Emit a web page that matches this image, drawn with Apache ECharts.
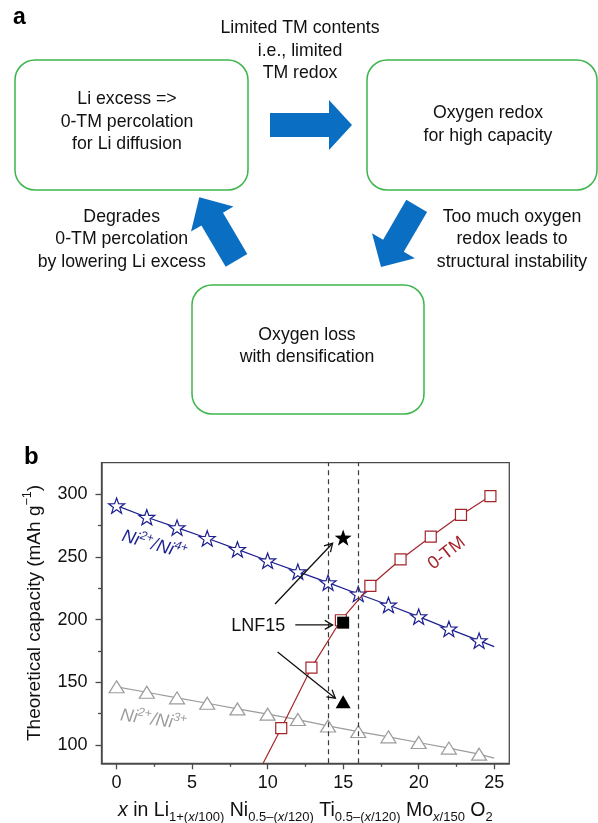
<!DOCTYPE html>
<html><head><meta charset="utf-8">
<script src="https://cdn.jsdelivr.net/npm/echarts@6/dist/echarts.min.js"></script>
<style>html,body{margin:0;padding:0;background:#fff}#c{width:598px;height:823px}</style>
</head><body><div id="c"></div>
<script>
const FONT = "'Liberation Sans', Arial, Helvetica, sans-serif";

// ---- data ----
const xTicks = [0, 5, 10, 15, 20, 25];
const xMinorTicks = [2.5, 7.5, 12.5, 17.5, 22.5];
const yTicks = [100, 150, 200, 250, 300];
const yMinorTicks = [125, 175, 225, 275];

// Ni2+/Ni4+ (open stars); last point is the line end without marker
const ni24X = [0, 2, 4, 6, 8, 10, 12, 14, 16, 18, 20, 22, 24, 25];
const ni24Y = [291, 281.7, 273.4, 264.9, 256.1, 247, 238.3, 229.5, 220.5, 211.7, 202.4, 192.6, 183.3, 178.5];

// Ni2+/Ni3+ (open triangles)
const ni23X = [0, 2, 4, 6, 8, 10, 12, 14, 16, 18, 20, 22, 24, 25];
const ni23Y = [146.4, 142.1, 137.6, 133.3, 128.8, 124.6, 120.3, 115.2, 110.7, 106.5, 102, 97.5, 92.7, 89.5];

// 0-TM (open squares); first point is where the line enters the plot
const tmX = [9.7, 10.9, 12.9, 14.85, 16.8, 18.8, 20.8, 22.8, 24.75];
const tmY = [85.5, 113.4, 161.7, 199.5, 227, 248, 266.2, 283.5, 298.6];

// LNF15 (filled black markers)
const lnfX = [15, 15, 15];
const lnfY = [265.4, 197.6, 134.6];
const lnfSymbols = ['star', 'rect', 'triangle'];

// annotation arrows [x1, y1, x2, y2]
const arrowSegs = [
  [11.83, 195.8, 14.3, 195.8],
  [10.49, 212.5, 14.3, 260.9],
  [10.66, 174.2, 14.48, 137.3]
];

// ---- styles ----
const BLUE = '#1c1f8f', RED = '#a3252a', GRAY = '#9c9c9c', GREEN = '#3db54b', ABLUE = '#0a6fc2';
const STAR = 'path://M0,-10L2.35,-3.24L9.51,-3.09L3.8,1.24L5.88,8.09L0,4L-5.88,8.09L-3.8,1.24L-9.51,-3.09L-2.35,-3.24Z';

function zip(xs, ys) { return xs.map((x, i) => [x, ys[i]]); }

const ni24Data = zip(ni24X, ni24Y).map((p, i) => i === ni24X.length - 1 ? { value: p, symbol: 'none' } : p);
const ni23Data = zip(ni23X, ni23Y).map((p, i) => i === ni23X.length - 1 ? { value: p, symbol: 'none' } : p);
const tmData = zip(tmX, tmY).map((p, i) => i === 0 ? { value: p, symbol: 'none' } : p);
const lnfData = zip(lnfX, lnfY).map((p, i) => ({
  value: p,
  symbol: lnfSymbols[i] === 'star' ? STAR : lnfSymbols[i],
  symbolSize: lnfSymbols[i] === 'star' ? 17 : (lnfSymbols[i] === 'rect' ? 12 : [15, 13])
}));

const txt = { fontFamily: FONT, fontSize: 17.7, fill: '#111', textAlign: 'center', textVerticalAlign: 'middle', lineHeight: 22.5 };
function T(text, x, y) { return { type: 'text', silent: true, style: Object.assign({}, txt, { text, x, y }) }; }
function box(x, y, w, h) {
  return { type: 'rect', silent: true, shape: { x, y, width: w, height: h, r: 20 },
    style: { fill: 'none', stroke: GREEN, lineWidth: 1.5 } };
}
function poly(points) { return { type: 'polygon', silent: true, shape: { points }, style: { fill: ABLUE } }; }

const graphics = [
  { type: 'text', silent: true, style: { text: 'a', x: 13, y: 29, fontFamily: FONT, fontWeight: 'bold', fontSize: 23, fill: '#000', textVerticalAlign: 'bottom' } },
  { type: 'text', silent: true, style: { text: 'b', x: 24, y: 469, fontFamily: FONT, fontWeight: 'bold', fontSize: 24, fill: '#000', textVerticalAlign: 'bottom' } },
  box(15, 60, 233, 130),
  box(367, 60, 230, 130),
  box(192, 285, 232, 129),
  T('Limited TM contents\ni.e., limited\nTM redox', 300, 51),
  T('Li excess =>\n0-TM percolation\nfor Li diffusion', 127, 121.7),
  T('Oxygen redox\nfor high capacity', 488, 124.5),
  T('Oxygen loss\nwith densification', 307, 346),
  T('Degrades\n0-TM percolation\nby lowering Li excess', 121.7, 239.2),
  T('Too much oxygen\nredox leads to\nstructural instability', 512, 239.2),
  poly([[270, 113], [329, 113], [329, 100], [352, 125], [329, 150], [329, 137], [270, 137]]),
  poly([[247.3, 253.9], [223.0, 212.8], [233.4, 206.6], [199.3, 197.2], [191.0, 231.6], [201.4, 225.5], [225.7, 266.7]]),
  poly([[427.1, 211.9], [403.8, 251.8], [414.9, 258.3], [381.0, 267.0], [372.0, 233.3], [383.1, 239.7], [406.3, 199.8]])
];

const axisCol = '#4a4a4a';
const labelStyle = { fontFamily: FONT, fontSize: 18, color: '#111' };

const supRich = (color) => ({
  n: { fontFamily: FONT, fontSize: 18, fontStyle: 'italic', color, lineHeight: 23 },
  s: { fontFamily: FONT, fontSize: 12, fontStyle: 'italic', color, lineHeight: 23, verticalAlign: 'top' }
});

const option = {
  animation: false,
  backgroundColor: '#fff',
  graphic: graphics,
  grid: { left: 101.5, right: 88.7, top: 462.7, bottom: 59.7, show: true, borderColor: axisCol, borderWidth: 1.3, backgroundColor: 'transparent', containLabel: false, outerBoundsMode: 'none' },
  xAxis: [
    { type: 'value', position: 'bottom', min: -1, max: 26,
      axisLine: { show: true, onZero: false, lineStyle: { color: axisCol, width: 1.5 } },
      axisTick: { show: true, customValues: xTicks, length: 6, lineStyle: { color: axisCol, width: 1.3 } },
      axisLabel: Object.assign({ customValues: xTicks, margin: 11 }, labelStyle),
      splitLine: { show: false },
      name: '{i|x}{n| in Li}{s|1+(}{si|x}{s|/100)}{n| Ni}{s|0.5–(}{si|x}{s|/120)}{n| Ti}{s|0.5–(}{si|x}{s|/120)}{n| Mo}{si|x}{s|/150}{n| O}{s|2}',
      nameLocation: 'middle', nameGap: 33,
      nameTextStyle: {
        rich: {
          i: { fontFamily: FONT, fontSize: 19.5, fontStyle: 'italic', color: '#111', lineHeight: 28 },
          n: { fontFamily: FONT, fontSize: 19.5, color: '#111', lineHeight: 28 },
          s: { fontFamily: FONT, fontSize: 13, color: '#111', lineHeight: 28, verticalAlign: 'bottom' },
          si: { fontFamily: FONT, fontSize: 13, fontStyle: 'italic', color: '#111', lineHeight: 28, verticalAlign: 'bottom' }
        }
      }
    },
    { type: 'value', position: 'bottom', min: -1, max: 26,
      axisLine: { show: false, onZero: false },
      axisTick: { show: true, customValues: xMinorTicks, length: 3.5, lineStyle: { color: axisCol, width: 1.3 } },
      axisLabel: { show: false }, splitLine: { show: false } }
  ],
  yAxis: [
    { type: 'value', position: 'left', min: 85.4, max: 325.2,
      axisLine: { show: true, onZero: false, lineStyle: { color: axisCol, width: 1.5 } },
      axisTick: { show: true, customValues: yTicks, length: 6, lineStyle: { color: axisCol, width: 1.3 } },
      axisLabel: Object.assign({ customValues: yTicks, margin: 14 }, labelStyle),
      splitLine: { show: false },
      name: '{n|Theoretical capacity (mAh g}{s|−1}{n|)}',
      nameLocation: 'middle', nameRotate: 90, nameGap: 54,
      nameTextStyle: {
        rich: {
          n: { fontFamily: FONT, fontSize: 19, color: '#111', lineHeight: 26 },
          s: { fontFamily: FONT, fontSize: 12.5, color: '#111', lineHeight: 26, verticalAlign: 'top' }
        }
      }
    },
    { type: 'value', position: 'left', min: 85.4, max: 325.2,
      axisLine: { show: false, onZero: false },
      axisTick: { show: true, customValues: yMinorTicks, length: 3.5, lineStyle: { color: axisCol, width: 1.3 } },
      axisLabel: { show: false }, splitLine: { show: false } }
  ],
  series: [
    { name: 'Ni2+/Ni3+', type: 'line', data: ni23Data, symbol: 'triangle', symbolSize: [15, 12],
      itemStyle: { color: '#fff', borderColor: GRAY, borderWidth: 1.2 },
      lineStyle: { color: GRAY, width: 1.2 }, z: 2 },
    { name: 'Ni2+/Ni4+', type: 'line', data: ni24Data, symbol: STAR, symbolSize: 16, symbolKeepAspect: true,
      itemStyle: { color: '#fff', borderColor: BLUE, borderWidth: 1.2 },
      lineStyle: { color: BLUE, width: 1.2 }, z: 3 },
    { name: '0-TM', type: 'line', data: tmData, symbol: 'rect', symbolSize: 11,
      itemStyle: { color: '#fff', borderColor: RED, borderWidth: 1.2 },
      lineStyle: { color: RED, width: 1.2 }, z: 4,
      markLine: { silent: true, symbol: 'none', label: { show: false },
        lineStyle: { type: [5, 4], color: '#3a3a3a', width: 1.2 },
        data: [{ xAxis: 14 }, { xAxis: 16 }] } },
    { name: 'LNF15', type: 'scatter', data: lnfData, symbolKeepAspect: true,
      itemStyle: { color: '#000', opacity: 1 }, z: 6 },
    { name: 'arrows', type: 'custom', data: arrowSegs, clip: false, silent: true, z: 7,
      encode: { x: [0, 2], y: [1, 3] },
      renderItem: function (params, api) {
        const p1 = api.coord([api.value(0), api.value(1)]);
        const p2 = api.coord([api.value(2), api.value(3)]);
        const ang = Math.atan2(p2[1] - p1[1], p2[0] - p1[0]);
        const L = 9, a = Math.PI / 6;
        const h1 = [p2[0] - L * Math.cos(ang - a), p2[1] - L * Math.sin(ang - a)];
        const h2 = [p2[0] - L * Math.cos(ang + a), p2[1] - L * Math.sin(ang + a)];
        return { type: 'group', children: [
          { type: 'line', shape: { x1: p1[0], y1: p1[1], x2: p2[0], y2: p2[1] }, style: { stroke: '#111', lineWidth: 1.3 } },
          { type: 'polyline', shape: { points: [h1, p2, h2] }, style: { stroke: '#111', lineWidth: 1.3, fill: null } }
        ] };
      } },
    { name: 'labels', type: 'scatter', symbolSize: 0, silent: true, z: 8,
      itemStyle: { opacity: 1 },
      label: { show: true, position: 'inside', opacity: 1, textBorderWidth: 0 },
      data: [
        { value: [2.5, 259.6], label: { formatter: '{n|Ni}{s|2+}{n|/Ni}{s|4+}', rotate: -16, rich: supRich(BLUE) } },
        { value: [2.43, 120], label: { formatter: '{n|Ni}{s|2+}{n|/Ni}{s|3+}', rotate: -8, rich: supRich(GRAY) } },
        { value: [21.85, 253], label: { formatter: '0-TM', rotate: 38, fontFamily: FONT, fontSize: 18, color: RED } },
        { value: [9.38, 195.2], label: { formatter: 'LNF15', fontFamily: FONT, fontSize: 18, color: '#111' } }
      ] }
  ]
};

const chart = echarts.init(document.getElementById('c'), null, { renderer: 'canvas' });
chart.setOption(option);
</script>
</body></html>
